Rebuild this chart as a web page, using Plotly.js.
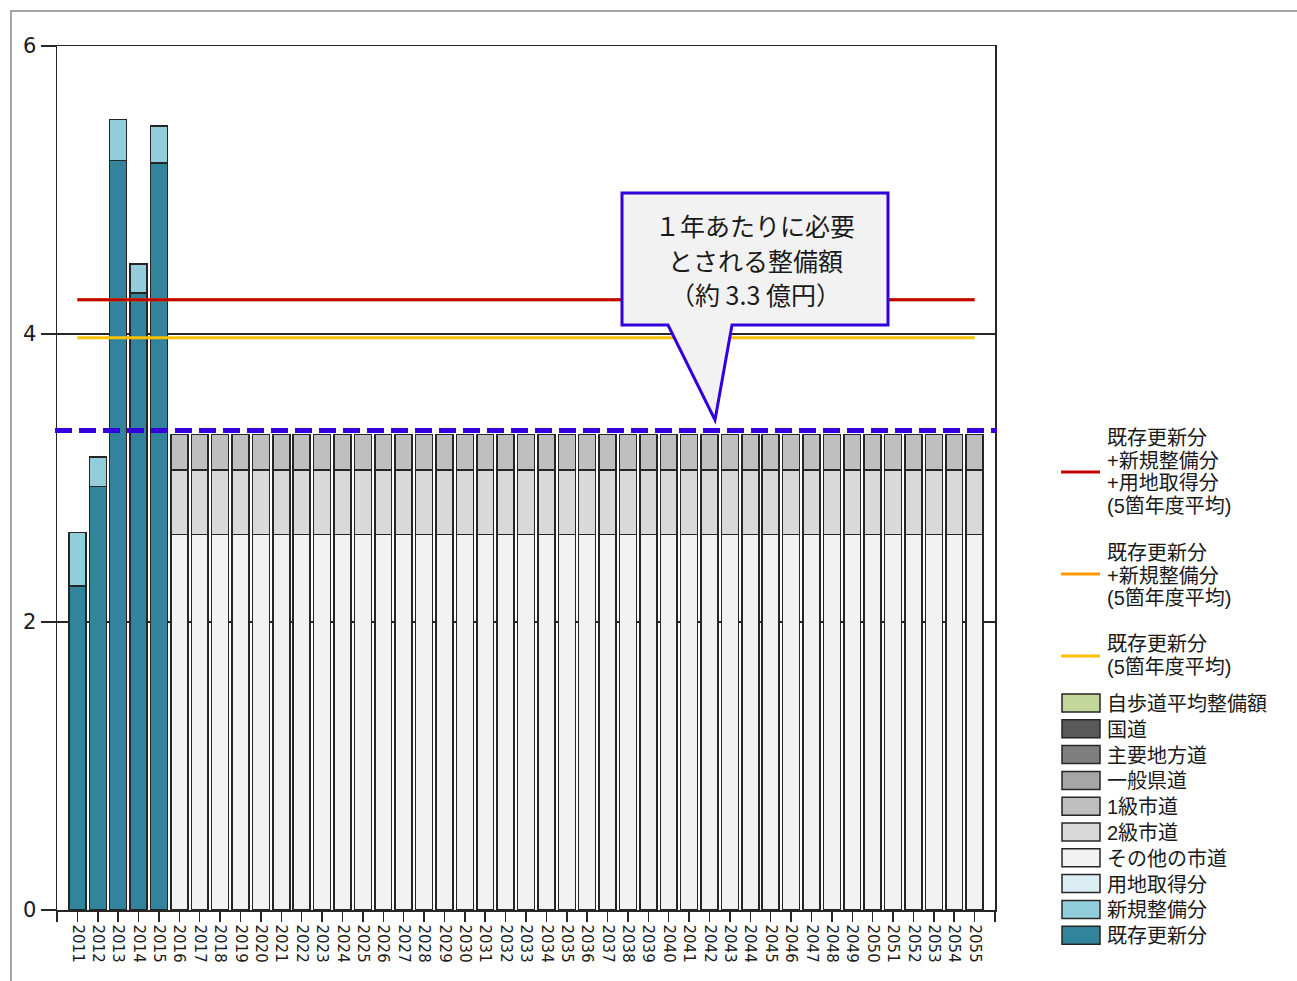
<!DOCTYPE html>
<html>
<head>
<meta charset="utf-8">
<script src="https://cdn.plot.ly/plotly-3.0.1.min.js"></script>
<style>
  html, body { margin: 0; padding: 0; background: #fff; overflow: hidden; }
  #chart { width: 1297px; height: 981px; }
  #frame { position: absolute; left: 10px; top: 10px; width: 1400px; height: 1100px;
           border: 2px solid #a6a6a6; pointer-events: none; }
</style>
</head>
<body>
<div id="chart"></div>
<div id="frame"></div>
<script>
// 実績（2011〜2015年度）: 既存更新分・新規整備分・用地取得分（億円）
const actualYears = [2011, 2012, 2013, 2014, 2015];
const renewal  = [2.25, 2.94, 5.205, 4.286, 5.189];
const newBuild = [0.37, 0.205, 0.285, 0.20, 0.257];
const landAcq  = [0, 0, 0, 0, 0];

// 将来推計（2016〜2055年度）: 市道の更新費（億円）
const projYears = [2016, 2017, 2018, 2019, 2020, 2021, 2022, 2023, 2024, 2025,
                   2026, 2027, 2028, 2029, 2030, 2031, 2032, 2033, 2034, 2035,
                   2036, 2037, 2038, 2039, 2040, 2041, 2042, 2043, 2044, 2045,
                   2046, 2047, 2048, 2049, 2050, 2051, 2052, 2053, 2054, 2055];
const otherCityRoad = [2.606, 2.606, 2.606, 2.606, 2.606, 2.606, 2.606, 2.606, 2.606, 2.606,
                       2.606, 2.606, 2.606, 2.606, 2.606, 2.606, 2.606, 2.606, 2.606, 2.606,
                       2.606, 2.606, 2.606, 2.606, 2.606, 2.606, 2.606, 2.606, 2.606, 2.606,
                       2.606, 2.606, 2.606, 2.606, 2.606, 2.606, 2.606, 2.606, 2.606, 2.606];
const city2Road = [0.451, 0.451, 0.451, 0.451, 0.451, 0.451, 0.451, 0.451, 0.451, 0.451,
                   0.451, 0.451, 0.451, 0.451, 0.451, 0.451, 0.451, 0.451, 0.451, 0.451,
                   0.451, 0.451, 0.451, 0.451, 0.451, 0.451, 0.451, 0.451, 0.451, 0.451,
                   0.451, 0.451, 0.451, 0.451, 0.451, 0.451, 0.451, 0.451, 0.451, 0.451];
const city1Road = [0.246, 0.246, 0.246, 0.246, 0.246, 0.246, 0.246, 0.246, 0.246, 0.246,
                   0.246, 0.246, 0.246, 0.246, 0.246, 0.246, 0.246, 0.246, 0.246, 0.246,
                   0.246, 0.246, 0.246, 0.246, 0.246, 0.246, 0.246, 0.246, 0.246, 0.246,
                   0.246, 0.246, 0.246, 0.246, 0.246, 0.246, 0.246, 0.246, 0.246, 0.246];

// 1年あたりに必要とされる整備額（億円）
const requiredAnnual = 3.33;

// 軸目盛
const yTicks = [0, 2, 4, 6];
const xTickVals = [2010].concat(actualYears, projYears, [2056]);
const xTickText = [''].concat(actualYears.map(String), projYears.map(String), ['']);

// 凡例
const lineNames = [
  ['既存更新分', '+新規整備分', '+用地取得分', '(5箇年度平均)'],
  ['既存更新分', '+新規整備分', '(5箇年度平均)'],
  ['既存更新分', '(5箇年度平均)']
];
const lineColors = ['#c00000', '#ff9900', '#ffc000'];
const barNames  = ['自歩道平均整備額', '国道', '主要地方道', '一般県道', '1級市道', '2級市道',
                   'その他の市道', '用地取得分', '新規整備分', '既存更新分'];
const barColors = ['#c4d79b', '#595959', '#7f7f7f', '#a6a6a6', '#bfbfbf', '#d9d9d9',
                   '#f2f2f2', '#daeef3', '#92cddc', '#31849b'];
const colorOf = name => barColors[barNames.indexOf(name)];

// 5箇年度平均
const mean = a => a.reduce((s, v) => s + v, 0) / a.length;
const avgRenewal = mean(renewal);
const avgRenewalNew = mean(renewal.map((v, i) => v + newBuild[i]));
const avgAll = mean(renewal.map((v, i) => v + newBuild[i] + landAcq[i]));

const edge = { color: '#262626', width: 1.5 };
const barTrace = (x, y, name) => ({
  type: 'bar', x: x, y: y, name: name, showlegend: false,
  marker: { color: colorOf(name), line: edge }, hoverinfo: 'x+y+name'
});

const firstYear = actualYears[0];
const lastYear = projYears[projYears.length - 1];
const avgLine = (v, color) => ({
  type: 'scatter', mode: 'lines', x: [firstYear, lastYear], y: [v, v],
  line: { color: color, width: 3 }, showlegend: false, hoverinfo: 'y'
});

const traces = [
  barTrace(actualYears, renewal, '既存更新分'),
  barTrace(actualYears, newBuild, '新規整備分'),
  barTrace(projYears, otherCityRoad, 'その他の市道'),
  barTrace(projYears, city2Road, '2級市道'),
  barTrace(projYears, city1Road, '1級市道'),
  avgLine(avgRenewal, lineColors[2]),
  avgLine(avgRenewalNew, lineColors[1]),
  avgLine(avgAll, lineColors[0])
];

// ピクセル位置 → paper 座標（描画領域: x 57–995, y 46–910）
const L = 57, R = 995, T = 46, B = 910;
const px = v => (v - L) / (R - L);
const py = v => (B - v) / (B - T);

const shapes = [];
const annotations = [];

// 必要整備額の破線
shapes.push({
  type: 'line', xref: 'paper', yref: 'y', x0: px(55), x1: px(997),
  y0: requiredAnnual, y1: requiredAnnual,
  line: { color: '#3300dd', width: 5, dash: '17px,7px' }, layer: 'above'
});

// 吹き出し
const cb = { l: 622, r: 888, t: 193, b: 325, p1: 668, p2: 732, tipX: 715, tipY: 420 };
shapes.push({
  type: 'path', xref: 'paper', yref: 'paper', layer: 'above',
  path: `M ${px(cb.l)},${py(cb.t)} L ${px(cb.r)},${py(cb.t)} L ${px(cb.r)},${py(cb.b)} ` +
        `L ${px(cb.p2)},${py(cb.b)} L ${px(cb.tipX)},${py(cb.tipY)} L ${px(cb.p1)},${py(cb.b)} ` +
        `L ${px(cb.l)},${py(cb.b)} Z`,
  fillcolor: '#f2f2f2', line: { color: '#3300dd', width: 3 }
});
const calloutLines = ['１年あたりに必要', 'とされる整備額', `（約 ${requiredAnnual.toFixed(1)} 億円）`];
const calloutY = [225, 260, 294];
calloutLines.forEach((t, i) => annotations.push({
  xref: 'paper', yref: 'paper', x: px((cb.l + cb.r) / 2), y: py(calloutY[i]),
  xanchor: 'center', yanchor: 'middle', showarrow: false, text: t,
  font: { family: 'Noto Sans CJK JP', size: 25, color: '#1a1a1a' }
}));

// 凡例の文字（欧文は Liberation Sans、和文は Noto Sans CJK JP）
const legendFont = { family: 'Liberation Sans, Noto Sans CJK JP', size: 20, color: '#1a1a1a' };
const legendText = (t, cy) => annotations.push({
  xref: 'paper', yref: 'paper', x: px(1105), y: py(cy),
  xanchor: 'left', yanchor: 'middle', showarrow: false, text: t, font: legendFont
});

// 凡例（線）
const lineRowTop = [438, 553, 644];
const lineRowStep = 22.6;
const lineSymY = [472, 574, 656];
lineNames.forEach((rows, k) => {
  shapes.push({
    type: 'line', xref: 'paper', yref: 'paper', x0: px(1061), x1: px(1100),
    y0: py(lineSymY[k]), y1: py(lineSymY[k]), line: { color: lineColors[k], width: 3 }
  });
  rows.forEach((t, j) => legendText(t, lineRowTop[k] + j * lineRowStep));
});

// 凡例（棒）
const barRowTop = 703, barRowStep = 25.8;
barNames.forEach((name, k) => {
  const cy = barRowTop + k * barRowStep;
  shapes.push({
    type: 'rect', xref: 'paper', yref: 'paper', x0: px(1062), x1: px(1100),
    y0: py(cy - 9), y1: py(cy + 9), fillcolor: barColors[k],
    line: { color: '#262626', width: 1.5 }
  });
  legendText(name, cy + 1);
});

const layout = {
  width: 1297, height: 981,
  margin: { l: L, r: 1297 - R, t: T, b: 981 - B, pad: 0 },
  paper_bgcolor: '#fff', plot_bgcolor: '#fff',
  barmode: 'stack', bargap: 0.17,
  showlegend: false,
  xaxis: {
    type: 'linear', range: [2010, 2056],
    tickmode: 'array', tickvals: xTickVals, ticktext: xTickText,
    tickangle: 90, ticks: 'outside', ticklen: 10, tickwidth: 1.5, tickcolor: '#262626',
    showline: true, linecolor: '#262626', linewidth: 1.5, mirror: true,
    showgrid: false, zeroline: false,
    tickfont: { family: 'DejaVu Sans', size: 15, color: '#1a1a1a' }
  },
  yaxis: {
    range: [0, 6], tickmode: 'array', tickvals: yTicks,
    ticks: 'outside', ticklen: 15, tickwidth: 1.5, tickcolor: '#262626',
    showline: true, linecolor: '#262626', linewidth: 1.5, mirror: true,
    showgrid: true, gridcolor: '#262626', gridwidth: 1.2, zeroline: false,
    tickfont: { family: 'DejaVu Sans', size: 21, color: '#1a1a1a' }
  },
  shapes: shapes,
  annotations: annotations
};

Plotly.newPlot('chart', traces, layout, { staticPlot: true });
</script>
</body>
</html>
